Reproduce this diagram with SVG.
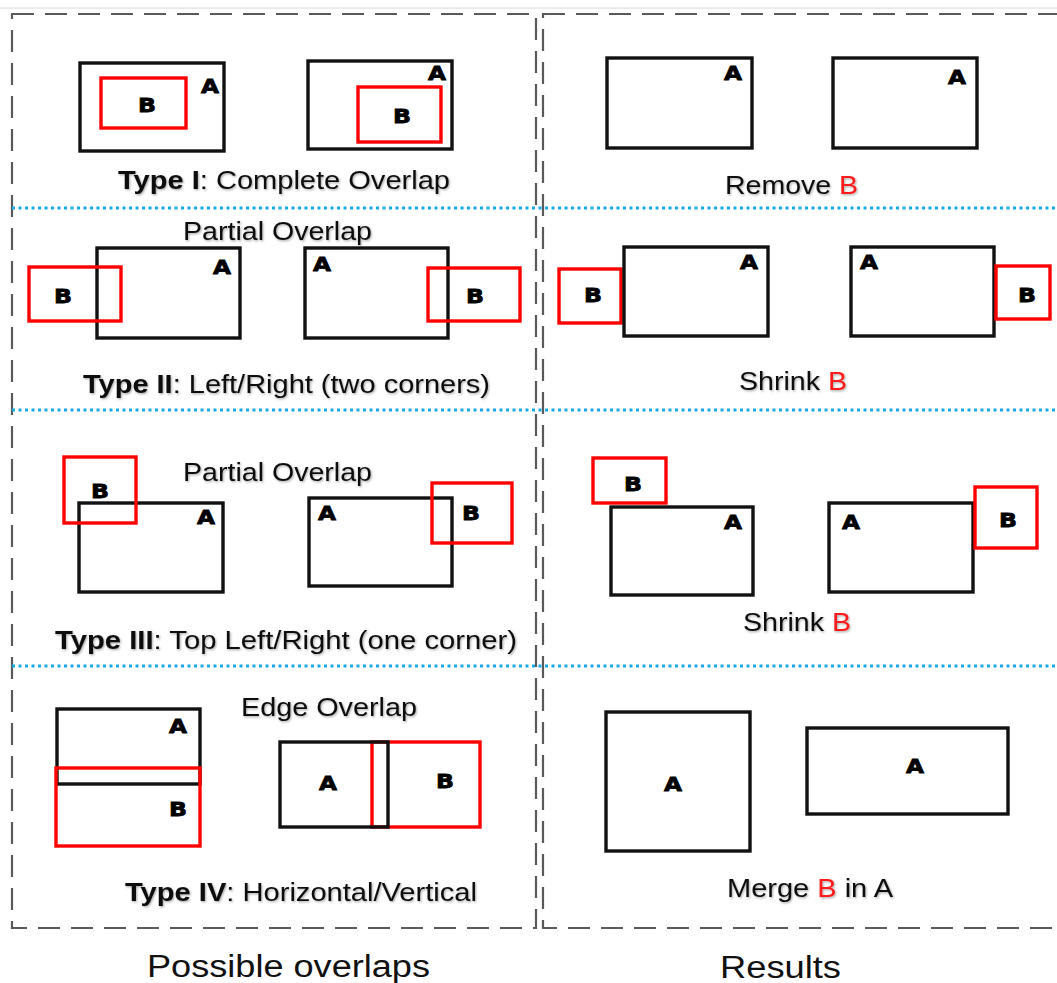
<svg xmlns="http://www.w3.org/2000/svg" width="1057" height="983" viewBox="0 0 1057 983">
  <defs>
    <filter id="soft" x="-5%" y="-20%" width="110%" height="150%">
      <feDropShadow dx="1" dy="1.2" stdDeviation="0.9" flood-color="#000" flood-opacity="0.35"/>
    </filter>
    <style>
      .panel { fill: none; stroke: #5a5a5a; stroke-width: 2.2; stroke-dasharray: 22 11; }
      .sep { fill: none; stroke: #1aa9e6; stroke-width: 3; stroke-dasharray: 3 3.5; }
      .a { fill: none; stroke: #111; stroke-width: 3.4; }
      .b { fill: none; stroke: #ff0000; stroke-width: 3.4; }
      .lbl { font-family: "DejaVu Sans", "Liberation Sans", sans-serif; font-weight: bold; font-size: 20px; fill: #000; stroke: #000; stroke-width: 0.8; text-anchor: middle; }
      .cap { font-family: "Liberation Sans", Arial, sans-serif; font-size: 25px; fill: #111; filter: url(#soft); }
      .title { font-family: "Liberation Sans", Arial, sans-serif; font-size: 31px; fill: #111; }
      .bold { font-weight: bold; }
      .red { fill: #ff1a1a; }
    </style>
  </defs>
  <rect width="1057" height="983" fill="#fff"/>
  <line x1="0" y1="8" x2="1057" y2="8" stroke="#d8d8d8" stroke-width="1"/>

  <!-- outer frames and row separators -->
  <g id="frames">
    <rect class="panel" x="12" y="14" width="524" height="914"/>
    <rect class="panel" x="543" y="14" width="540" height="914"/>
    <line class="sep" x1="12" y1="208" x2="1057" y2="208"/>
    <line class="sep" x1="12" y1="410" x2="1057" y2="410"/>
    <line class="sep" x1="12" y1="666" x2="1057" y2="666"/>
  </g>

  <!-- Type I: complete overlap -->
  <g id="type1-left">
    <rect class="a" x="80" y="63" width="144" height="88"/>
    <rect class="b" x="101" y="78" width="85" height="50"/>
    <text class="lbl" x="210" y="93" textLength="18" lengthAdjust="spacingAndGlyphs">A</text>
    <text class="lbl" x="147" y="112" textLength="18" lengthAdjust="spacingAndGlyphs">B</text>
  </g>
  <g id="type1-right">
    <rect class="a" x="308" y="61" width="144" height="88"/>
    <rect class="b" x="358" y="87" width="83" height="55"/>
    <text class="lbl" x="437" y="80" textLength="18" lengthAdjust="spacingAndGlyphs">A</text>
    <text class="lbl" x="402" y="123" textLength="18" lengthAdjust="spacingAndGlyphs">B</text>
  </g>
  <text id="cap1" class="cap" x="118" y="189" textLength="332" lengthAdjust="spacingAndGlyphs"><tspan class="bold">Type I</tspan>: Complete Overlap</text>

  <g id="res1-left">
    <rect class="a" x="607" y="58" width="145" height="90"/>
    <text class="lbl" x="733" y="80" textLength="18" lengthAdjust="spacingAndGlyphs">A</text>
  </g>
  <g id="res1-right">
    <rect class="a" x="833" y="58" width="144" height="90"/>
    <text class="lbl" x="957" y="84" textLength="18" lengthAdjust="spacingAndGlyphs">A</text>
  </g>
  <text id="res1-cap" class="cap" x="725" y="194" textLength="133" lengthAdjust="spacingAndGlyphs">Remove <tspan class="red">B</tspan></text>

  <!-- Type II: left / right partial overlap -->
  <text id="cap2-top" class="cap" x="183" y="240" textLength="189" lengthAdjust="spacingAndGlyphs">Partial Overlap</text>
  <g id="type2-left">
    <rect class="a" x="97" y="248" width="143" height="90"/>
    <rect class="b" x="29" y="267" width="92" height="54"/>
    <text class="lbl" x="222" y="274" textLength="18" lengthAdjust="spacingAndGlyphs">A</text>
    <text class="lbl" x="63" y="303" textLength="18" lengthAdjust="spacingAndGlyphs">B</text>
  </g>
  <g id="type2-right">
    <rect class="a" x="305" y="248" width="143" height="90"/>
    <rect class="b" x="428" y="268" width="92" height="53"/>
    <text class="lbl" x="322" y="271" textLength="18" lengthAdjust="spacingAndGlyphs">A</text>
    <text class="lbl" x="475" y="303" textLength="18" lengthAdjust="spacingAndGlyphs">B</text>
  </g>
  <text id="cap2" class="cap" x="83" y="393" textLength="407" lengthAdjust="spacingAndGlyphs"><tspan class="bold">Type II</tspan>: Left/Right (two corners)</text>

  <g id="res2-left">
    <rect class="b" x="559" y="269" width="62" height="54"/>
    <rect class="a" x="624" y="247" width="144" height="89"/>
    <text class="lbl" x="749" y="269" textLength="18" lengthAdjust="spacingAndGlyphs">A</text>
    <text class="lbl" x="593" y="302" textLength="18" lengthAdjust="spacingAndGlyphs">B</text>
  </g>
  <g id="res2-right">
    <rect class="a" x="851" y="247" width="143" height="89"/>
    <rect class="b" x="996" y="266" width="54" height="53"/>
    <text class="lbl" x="869" y="269" textLength="18" lengthAdjust="spacingAndGlyphs">A</text>
    <text class="lbl" x="1027" y="302" textLength="18" lengthAdjust="spacingAndGlyphs">B</text>
  </g>
  <text id="res2-cap" class="cap" x="739" y="390" textLength="108" lengthAdjust="spacingAndGlyphs">Shrink <tspan class="red">B</tspan></text>

  <!-- Type III: top corner partial overlap -->
  <text id="cap3-top" class="cap" x="183" y="481" textLength="189" lengthAdjust="spacingAndGlyphs">Partial Overlap</text>
  <g id="type3-left">
    <rect class="a" x="79" y="503" width="144" height="89"/>
    <rect class="b" x="64" y="457" width="72" height="66"/>
    <text class="lbl" x="100" y="498" textLength="18" lengthAdjust="spacingAndGlyphs">B</text>
    <text class="lbl" x="206" y="524" textLength="18" lengthAdjust="spacingAndGlyphs">A</text>
  </g>
  <g id="type3-right">
    <rect class="a" x="309" y="498" width="143" height="88"/>
    <rect class="b" x="432" y="483" width="80" height="60"/>
    <text class="lbl" x="327" y="520" textLength="18" lengthAdjust="spacingAndGlyphs">A</text>
    <text class="lbl" x="471" y="520" textLength="18" lengthAdjust="spacingAndGlyphs">B</text>
  </g>
  <text id="cap3" class="cap" x="55" y="649" textLength="462" lengthAdjust="spacingAndGlyphs"><tspan class="bold">Type III</tspan>: Top Left/Right (one corner)</text>

  <g id="res3-left">
    <rect class="b" x="593" y="458" width="73" height="45"/>
    <rect class="a" x="611" y="507" width="142" height="88"/>
    <text class="lbl" x="633" y="491" textLength="18" lengthAdjust="spacingAndGlyphs">B</text>
    <text class="lbl" x="733" y="529" textLength="18" lengthAdjust="spacingAndGlyphs">A</text>
  </g>
  <g id="res3-right">
    <rect class="a" x="829" y="503" width="144" height="89"/>
    <rect class="b" x="975" y="487" width="62" height="61"/>
    <text class="lbl" x="851" y="529" textLength="18" lengthAdjust="spacingAndGlyphs">A</text>
    <text class="lbl" x="1008" y="527" textLength="18" lengthAdjust="spacingAndGlyphs">B</text>
  </g>
  <text id="res3-cap" class="cap" x="743" y="631" textLength="108" lengthAdjust="spacingAndGlyphs">Shrink <tspan class="red">B</tspan></text>

  <!-- Type IV: edge overlap -->
  <text id="cap4-top" class="cap" x="241" y="716" textLength="176" lengthAdjust="spacingAndGlyphs">Edge Overlap</text>
  <g id="type4-left">
    <rect class="a" x="57" y="709" width="143" height="75"/>
    <rect class="b" x="56" y="768" width="144" height="78"/>
    <text class="lbl" x="178" y="733" textLength="18" lengthAdjust="spacingAndGlyphs">A</text>
    <text class="lbl" x="178" y="816" textLength="18" lengthAdjust="spacingAndGlyphs">B</text>
  </g>
  <g id="type4-right">
    <rect class="b" x="372" y="742" width="108" height="85"/>
    <rect class="a" x="280" y="742" width="108" height="85"/>
    <text class="lbl" x="328" y="790" textLength="18" lengthAdjust="spacingAndGlyphs">A</text>
    <text class="lbl" x="445" y="788" textLength="18" lengthAdjust="spacingAndGlyphs">B</text>
  </g>
  <text id="cap4" class="cap" x="125" y="901" textLength="352" lengthAdjust="spacingAndGlyphs"><tspan class="bold">Type IV</tspan>: Horizontal/Vertical</text>

  <g id="res4-left">
    <rect class="a" x="606" y="712" width="144" height="139"/>
    <text class="lbl" x="673" y="791" textLength="18" lengthAdjust="spacingAndGlyphs">A</text>
  </g>
  <g id="res4-right">
    <rect class="a" x="807" y="728" width="201" height="86"/>
    <text class="lbl" x="915" y="773" textLength="18" lengthAdjust="spacingAndGlyphs">A</text>
  </g>
  <text id="res4-cap" class="cap" x="727" y="897" textLength="166" lengthAdjust="spacingAndGlyphs">Merge <tspan class="red">B</tspan> in A</text>

  <!-- column titles -->
  <text id="title-left" class="title" x="147" y="977" textLength="283" lengthAdjust="spacingAndGlyphs">Possible overlaps</text>
  <text id="title-right" class="title" x="720" y="978" textLength="121" lengthAdjust="spacingAndGlyphs">Results</text>
</svg>
